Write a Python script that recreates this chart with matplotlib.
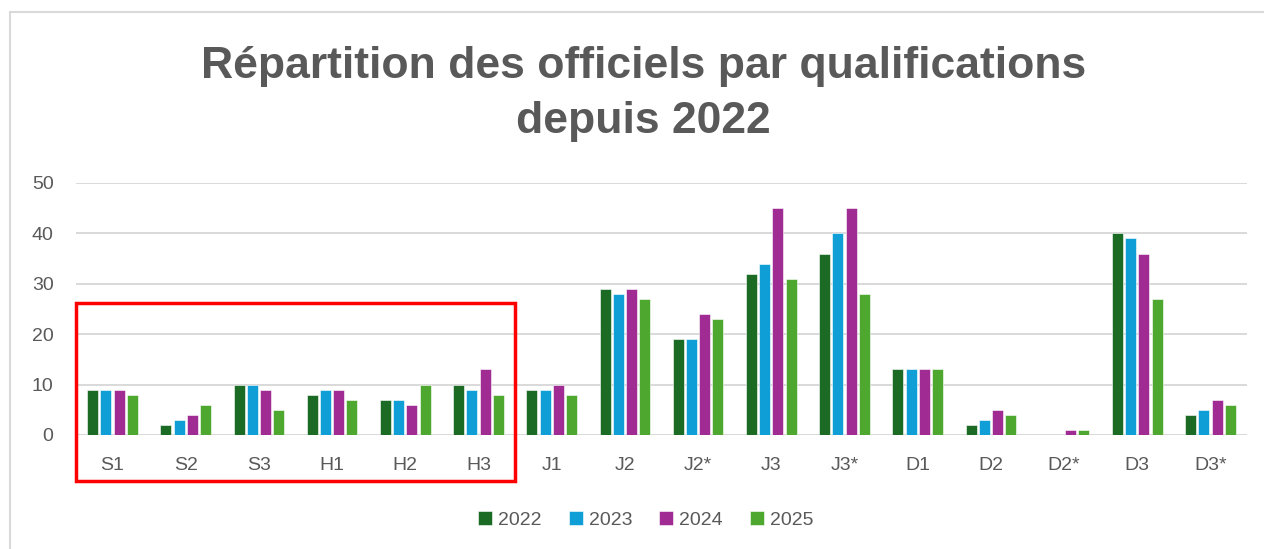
import numpy as np
import matplotlib.pyplot as plt
import matplotlib.patches as mpatches

plt.rcParams["font.family"] = ["Liberation Sans", "DejaVu Sans"]

CATEGORIES = ["S1", "S2", "S3", "H1", "H2", "H3", "J1", "J2", "J2*", "J3",
              "J3*", "D1", "D2", "D2*", "D3", "D3*"]
YEARS = ["2022", "2023", "2024", "2025"]

V2022 = [9, 2, 10, 8, 7, 10, 9, 29, 19, 32, 36, 13, 2, 0, 40, 4]
V2023 = [9, 3, 10, 9, 7, 9, 9, 28, 19, 34, 40, 13, 3, 0, 39, 5]
V2024 = [9, 4, 9, 9, 6, 13, 10, 29, 24, 45, 45, 13, 5, 1, 36, 7]
V2025 = [8, 6, 5, 7, 10, 8, 8, 27, 23, 31, 28, 13, 4, 1, 27, 6]

COLORS = ["#1b6b24", "#0f9ed5", "#a02b93", "#4ea72e"]
TEXT = "#595959"


def main():
    fig = plt.figure(figsize=(12.64, 5.49), dpi=100)
    ax = fig.add_axes([0.060, 0.2077, 0.9266, 0.459])

    x = np.arange(len(CATEGORIES))
    width = 0.15
    step = 0.18
    series = [V2022, V2023, V2024, V2025]
    for i, (vals, color, year) in enumerate(zip(series, COLORS, YEARS)):
        ax.bar(x + (i - 1.5) * step, vals, width, color=color, label=year,
               edgecolor="white", linewidth=0.4, zorder=3)

    ax.set_xlim(-0.5, len(CATEGORIES) - 0.5)
    ax.set_ylim(0, 50)
    ax.set_yticks(range(0, 51, 10))
    ax.grid(axis="y", color="#d9d9d9", linewidth=1.4, zorder=0)
    for s in ax.spines.values():
        s.set_visible(False)
    ax.axhline(0, color="#d9d9d9", linewidth=1.4, zorder=1)
    ax.set_xticks(x)
    ax.set_xticklabels(CATEGORIES)
    ax.tick_params(axis="both", length=0, labelsize=14, labelcolor=TEXT)
    ax.tick_params(axis="x", pad=16)
    ax.tick_params(axis="y", pad=16)

    # red highlight box around the S/H groups
    ax.add_patch(mpatches.Rectangle((-0.5, -9.1), 6.0, 35.3, fill=False,
                                    edgecolor="red", linewidth=2.5,
                                    clip_on=False, zorder=4))

    fig.text(0.509, 0.858, "Répartition des officiels par qualifications",
             ha="center", va="baseline", fontsize=32, fontweight="bold",
             color=TEXT)
    fig.text(0.509, 0.757, "depuis 2022", ha="center", va="baseline",
             fontsize=32, fontweight="bold", color=TEXT)

    fig.legend(loc="center", bbox_to_anchor=(0.511, 0.053), ncol=4,
               frameon=False, fontsize=14, labelcolor=TEXT,
               handlelength=0.72, handleheight=0.72, handletextpad=0.3,
               columnspacing=1.4)

    # chart-area border (only left and top edges visible in the crop)
    fig.add_artist(mpatches.Rectangle((0.0079, -0.05), 1.5, 1.029,
                                      fill=False, edgecolor="#d9d9d9",
                                      linewidth=1.5,
                                      transform=fig.transFigure))

    fig.savefig("out.png", dpi=100)


if __name__ == "__main__":
    main()
